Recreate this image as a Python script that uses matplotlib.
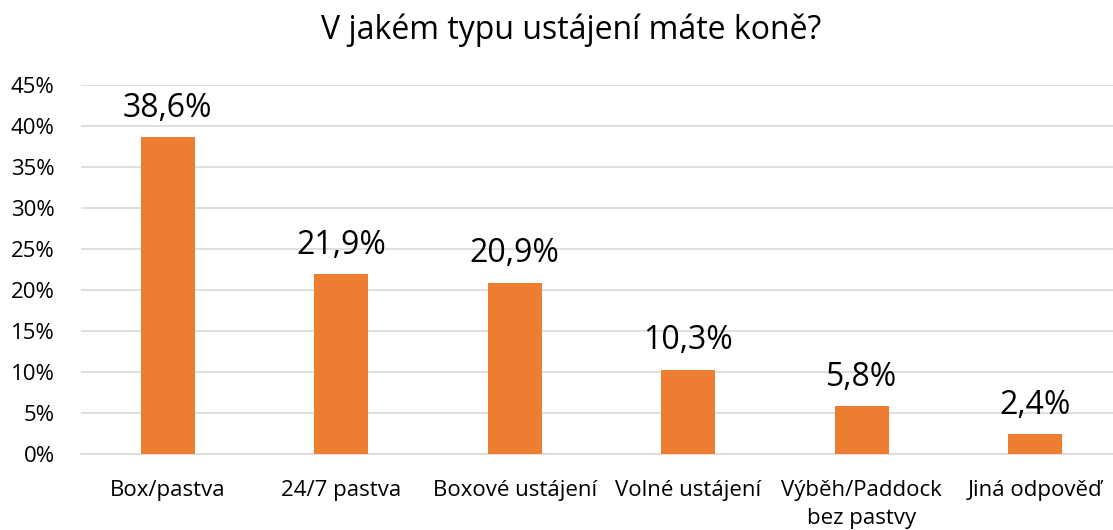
import matplotlib.pyplot as plt
import numpy as np

categories = ['Box/pastva', '24/7 pastva', 'Boxové ustájení', 'Volné ustájení',
              'Výběh/Paddock\nbez pastvy', 'Jiná odpověď']
values = [38.6, 21.9, 20.9, 10.3, 5.8, 2.4]
yticks = [0, 5, 10, 15, 20, 25, 30, 35, 40, 45]

plt.rcParams['font.family'] = ['Open Sans', 'DejaVu Sans']

W, H = 1113, 530
fig = plt.figure(figsize=(W / 100, H / 100), dpi=100)
# plot area in pixels: x 81..1122, y 85..454
ax = fig.add_axes([81 / W, 1 - 454 / H, (1122 - 81) / W, (454 - 85) / H])

x = np.arange(len(categories))
bars = ax.bar(x, values, width=0.31, color='#ED7D31', zorder=3)

for xi, v in zip(x, values):
    ax.text(xi, v + 1.5, ('%.1f%%' % v).replace('.', ','), ha='center', va='bottom',
            fontsize=23, color='black')

ax.set_xlim(-0.5, len(categories) - 0.5)
ax.set_ylim(0, 45)
ax.set_yticks(yticks)
ax.set_yticklabels(['%d%%' % t for t in yticks], fontsize=16)
ax.set_xticks(x)
ax.set_xticklabels(categories, fontsize=16, linespacing=1.4)
ax.tick_params(axis='both', length=0, colors='black')
ax.tick_params(axis='x', pad=19)
ax.tick_params(axis='y', pad=19)
ax.grid(axis='y', color='#D9D9D9', linewidth=1.2, zorder=0)
for s in ['top', 'right', 'left']:
    ax.spines[s].set_visible(False)
ax.spines['bottom'].set_color('#D9D9D9')
ax.spines['bottom'].set_linewidth(1.2)

fig.text(571 / W, 1 - 30 / H, 'V jakém typu ustájení máte koně?', ha='center', va='center',
         fontsize=23, color='black')

fig.savefig('out.png', dpi=100)
